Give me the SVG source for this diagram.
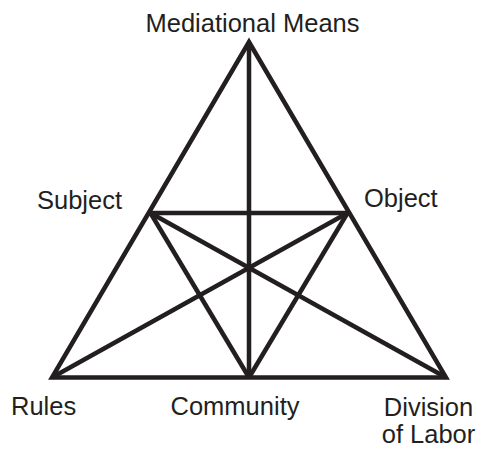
<svg xmlns="http://www.w3.org/2000/svg" width="481" height="451" viewBox="0 0 481 451">
<style>
.l{stroke:#231f20;stroke-width:4.5;fill:none;stroke-linejoin:miter;stroke-linecap:butt}
text{font-family:"Liberation Sans",Arial,sans-serif;font-size:25.5px;fill:#231f20}
</style>
<rect width="481" height="451" fill="#fff"/>
<g id="connectors">
<polygon class="l" points="249,42 52,377.5 446,377.5"/>
<line class="l" x1="249" y1="42" x2="249" y2="377.5"/>
<line class="l" x1="150.5" y1="213" x2="347.5" y2="213"/>
<line class="l" x1="150.5" y1="213" x2="249" y2="377.5"/>
<line class="l" x1="347.5" y1="213" x2="249" y2="377.5"/>
<line class="l" x1="52" y1="377.5" x2="347.5" y2="213"/>
<line class="l" x1="446" y1="377.5" x2="150.5" y2="213"/>
</g>
<g id="mediational-means"><text x="252.5" y="32" text-anchor="middle">Mediational Means</text></g>
<g id="subject"><text x="37" y="209">Subject</text></g>
<g id="object"><text x="364" y="207">Object</text></g>
<g id="rules"><text x="11" y="415">Rules</text></g>
<g id="community"><text x="235" y="415" text-anchor="middle">Community</text></g>
<g id="division-of-labor"><text x="428.5" y="416" text-anchor="middle">Division</text><text x="428.5" y="443" text-anchor="middle">of Labor</text></g>
</svg>
